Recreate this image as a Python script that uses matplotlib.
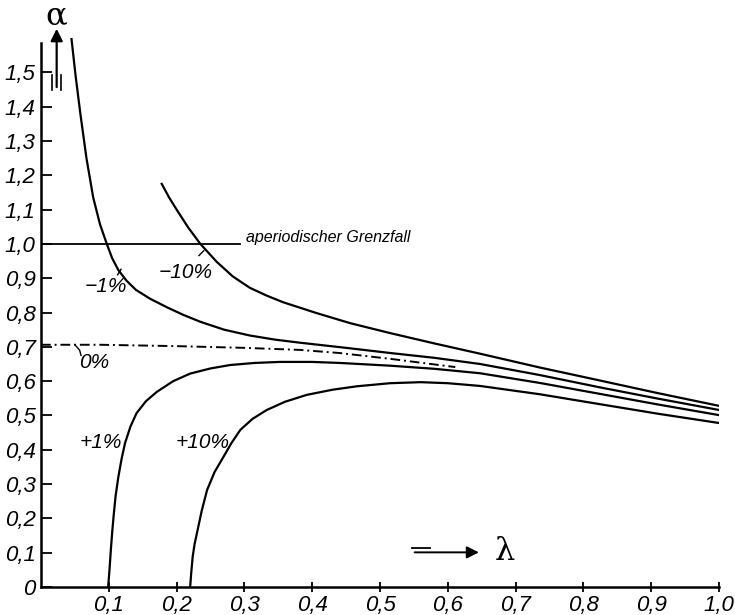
import matplotlib
matplotlib.use('Agg')
import matplotlib.pyplot as plt

# Values (lambda, alpha)
lam_m10 = [0.178, 0.189, 0.20, 0.217, 0.235, 0.259, 0.283, 0.308, 0.332, 0.357, 0.407,
           0.456, 0.515, 0.58, 0.6475, 0.735, 0.824, 0.91, 1.0]
alpha_m10 = [1.175, 1.135, 1.10, 1.048, 1.0, 0.948, 0.905, 0.872, 0.850, 0.830, 0.798,
             0.769, 0.740, 0.710, 0.680, 0.640, 0.602, 0.565, 0.528]

lam_m1 = [0.045, 0.051, 0.058, 0.067, 0.077, 0.087, 0.097, 0.105, 0.114, 0.126, 0.140,
          0.161, 0.186, 0.21, 0.235, 0.27, 0.308, 0.345, 0.382, 0.45, 0.515, 0.58,
          0.6475, 0.735, 0.824, 0.91, 1.0]
alpha_m1 = [1.597, 1.49, 1.38, 1.25, 1.135, 1.057, 1.0, 0.958, 0.924, 0.893, 0.866,
            0.840, 0.815, 0.793, 0.773, 0.750, 0.733, 0.721, 0.712, 0.697, 0.682, 0.668,
            0.650, 0.618, 0.582, 0.549, 0.516]

lam_0 = [0.0, 0.087, 0.2, 0.3, 0.382, 0.44, 0.515, 0.611]
alpha_0 = [0.706, 0.706, 0.702, 0.697, 0.691, 0.682, 0.665, 0.641]

lam_p1 = [0.099, 0.101, 0.103, 0.105, 0.107, 0.110, 0.114, 0.119, 0.124, 0.132, 0.141,
          0.155, 0.171, 0.195, 0.220, 0.25, 0.279, 0.315, 0.352, 0.40, 0.441, 0.515,
          0.58, 0.6475, 0.735, 0.824, 0.91, 1.0]
alpha_p1 = [0.0, 0.05, 0.108, 0.16, 0.205, 0.265, 0.32, 0.375, 0.42, 0.468, 0.507,
            0.542, 0.569, 0.600, 0.622, 0.637, 0.647, 0.653, 0.656, 0.656, 0.653, 0.645,
            0.636, 0.623, 0.595, 0.563, 0.532, 0.501]

lam_p10 = [0.220, 0.2215, 0.2237, 0.2265, 0.230, 0.237, 0.245, 0.256, 0.269, 0.281,
           0.294, 0.312, 0.333, 0.36, 0.392, 0.43, 0.466, 0.515, 0.56, 0.60, 0.6475,
           0.735, 0.824, 0.91, 1.0]
alpha_p10 = [0.0, 0.04, 0.088, 0.125, 0.157, 0.222, 0.283, 0.335, 0.379, 0.420,
             0.458, 0.490, 0.516, 0.540, 0.560, 0.575, 0.585, 0.594, 0.597, 0.594, 0.586,
             0.562, 0.533, 0.505, 0.478]

x_ticks = [0.1, 0.2, 0.3, 0.4, 0.5, 0.6, 0.7, 0.8, 0.9, 1.0]
x_tick_labels = ['0,1', '0,2', '0,3', '0,4', '0,5', '0,6', '0,7', '0,8', '0,9', '1,0']
y_ticks = [0.0, 0.1, 0.2, 0.3, 0.4, 0.5, 0.6, 0.7, 0.8, 0.9, 1.0, 1.1, 1.2, 1.3, 1.4, 1.5]
y_tick_labels = ['0', '0,1', '0,2', '0,3', '0,4', '0,5', '0,6', '0,7', '0,8', '0,9',
                 '1,0', '1,1', '1,2', '1,3', '1,4', '1,5']

curve_labels = ['−10%', '−1%', '0%', '+1%', '+10%']
label_pos = [(0.213, 0.918), (0.096, 0.875), (0.078, 0.655), (0.088, 0.42), (0.239, 0.42)]

plt.rcParams['font.family'] = ['Liberation Sans', 'DejaVu Sans']
plt.rcParams['font.style'] = 'italic'

fig = plt.figure(figsize=(7.35, 6.15), dpi=100)
ax = fig.add_axes([0.0558, 0.0455, 0.9224, 0.8927])

lw = 1.6
ax.plot(lam_m10, alpha_m10, color='black', lw=lw)
ax.plot(lam_m1, alpha_m1, color='black', lw=lw)
ax.plot(lam_0, alpha_0, color='black', lw=1.4, linestyle=(0, (5, 2, 1, 2)))
ax.plot(lam_p1, alpha_p1, color='black', lw=lw)
ax.plot(lam_p10, alpha_p10, color='black', lw=lw)

# aperiodic limit line
ax.plot([0.0, 0.293], [1.0, 1.0], color='black', lw=1.3)
ax.text(0.302, 1.018, 'aperiodischer Grenzfall', fontsize=11.5, ha='left', va='center')

# curve labels
for lab, (lx, ly) in zip(curve_labels, label_pos):
    ax.text(lx, ly, lab, fontsize=15, ha='center', va='center')

# little leader strokes from labels to curves
ax.plot([0.233, 0.240], [0.966, 0.98], color='black', lw=1.0)
ax.plot([0.113, 0.118], [0.910, 0.926], color='black', lw=1.0)
ax.plot([0.050, 0.057, 0.059], [0.706, 0.69, 0.675], color='black', lw=1.0)

# alpha axis arrow
ax.annotate('', xy=(0.0231, 1.635), xytext=(0.0231, 1.449),
            arrowprops=dict(arrowstyle='-|>', color='black', lw=1.6,
                            mutation_scale=18), annotation_clip=False)
ax.plot([0.0160, 0.0160], [1.449, 1.492], color='black', lw=1.2, clip_on=False)
ax.plot([0.0300, 0.0300], [1.449, 1.492], color='black', lw=1.2, clip_on=False)
ax.text(0.022, 1.664, 'α', fontsize=23, family='DejaVu Serif', style='normal',
        ha='center', va='center', clip_on=False)

# lambda axis arrow
ax.plot([0.547, 0.574], [0.114, 0.114], color='black', lw=1.3)
ax.annotate('', xy=(0.650, 0.101), xytext=(0.547, 0.101),
            arrowprops=dict(arrowstyle='-|>', color='black', lw=1.4,
                            mutation_scale=18))
ax.text(0.684, 0.104, 'λ', fontsize=23, family='DejaVu Serif', style='normal',
        ha='center', va='center')

# axes look
ax.set_xlim(0, 1.0)
ax.set_ylim(0, 1.6)
ax.spines['top'].set_visible(False)
ax.spines['right'].set_visible(False)
ax.spines['left'].set_bounds(0, 1.585)
ax.spines['left'].set_linewidth(1.8)
ax.spines['bottom'].set_linewidth(1.8)

ax.set_xticks(x_ticks)
ax.set_xticklabels(x_tick_labels, fontsize=16)
ax.set_yticks(y_ticks)
ax.set_yticklabels(y_tick_labels, fontsize=16)
ax.tick_params(axis='x', direction='inout', length=7, width=1.3, pad=2)
ax.tick_params(axis='y', direction='in', length=8, width=1.3, pad=4)
for t in ax.get_xticklines() + ax.get_yticklines():
    t.set_clip_on(False)

fig.savefig('out.png', dpi=100)
